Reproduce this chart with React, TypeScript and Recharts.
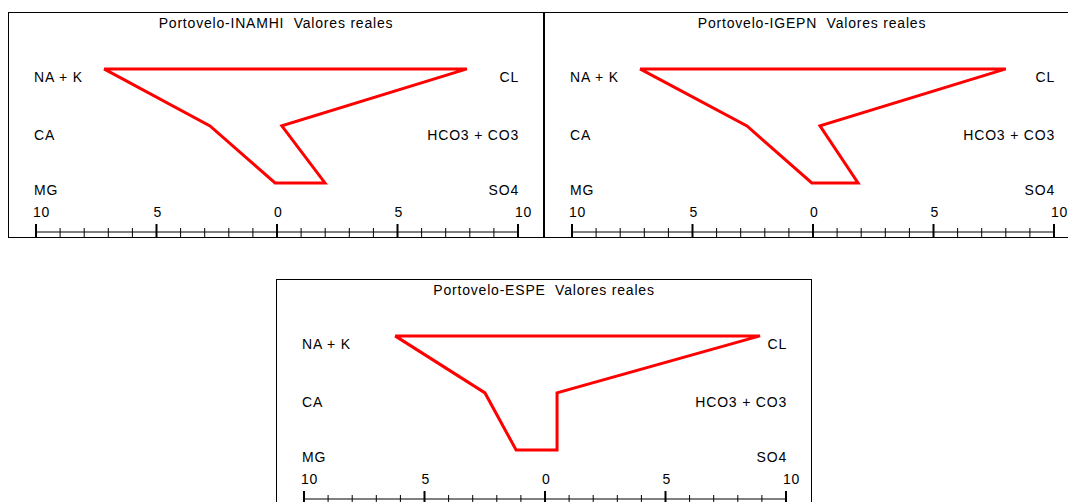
import { LineChart, Line, XAxis, YAxis } from 'recharts'

// Stiff diagrams, values in meq/l
const stations = ['Portovelo-INAMHI', 'Portovelo-IGEPN', 'Portovelo-ESPE']
const naK = [7.18, 7.18, 6.22]
const ca = [2.78, 2.74, 2.49]
const mg = [0.08, 0.05, 1.2]
const cl = [7.88, 8.0, 8.92]
const hco3 = [0.2, 0.29, 0.5]
const so4 = [1.99, 1.87, 0.5]

const cationLabels = ['NA + K', 'CA', 'MG']
const anionLabels = ['CL', 'HCO3 + CO3', 'SO4']
const rowValues = [2, 1, 0]
const axisTicks = [-10, -9, -8, -7, -6, -5, -4, -3, -2, -1, 0, 1, 2, 3, 4, 5, 6, 7, 8, 9, 10]

const panelPos = [
  { left: 8, top: 12 },
  { left: 544, top: 12 },
  { left: 276, top: 279 }
]

const PANEL_W = 536
const PANEL_H = 226
const font = '"Liberation Sans", Arial, sans-serif'

const polygon = (i: number) => [
  { x: -naK[i], y: rowValues[0] },
  { x: cl[i], y: rowValues[0] },
  { x: hco3[i], y: rowValues[1] },
  { x: so4[i], y: rowValues[2] },
  { x: -mg[i], y: rowValues[2] },
  { x: -ca[i], y: rowValues[1] },
  { x: -naK[i], y: rowValues[0] }
]

function AxisTick(props: any) {
  const { x, y, payload } = props
  const v = payload.value
  const major = v % 5 === 0
  return (
    <g>
      <line
        x1={x}
        x2={x}
        y1={y - (major ? 8 : 4)}
        y2={y + 5}
        stroke="#000"
        strokeWidth={major ? 2 : 1}
      />
      {major && (
        <text
          x={x - 3}
          y={y - 15}
          textAnchor="start"
          fontSize={14}
          fontFamily={font}
          letterSpacing={0.8}
          fill="#000"
        >
          {Math.abs(v)}
        </text>
      )}
    </g>
  )
}

const labelStyle = {
  position: 'absolute' as const,
  fontFamily: font,
  fontSize: 14,
  letterSpacing: 0.8,
  lineHeight: '16px',
  color: '#000',
  whiteSpace: 'nowrap' as const
}

function StiffPanel({ idx }: { idx: number }) {
  const pos = panelPos[idx]
  const rowY = [65, 123, 178]
  return (
    <div
      style={{
        position: 'absolute',
        left: pos.left,
        top: pos.top,
        width: PANEL_W,
        height: PANEL_H,
        boxSizing: 'border-box',
        border: '1px solid #000',
        background: '#fff'
      }}
    >
      <div style={{ ...labelStyle, left: 0, width: PANEL_W - 2, top: 2, textAlign: 'center' }}>
        {stations[idx]}&nbsp; Valores reales
      </div>
      {cationLabels.map((c, k) => (
        <div key={c} style={{ ...labelStyle, left: 25, top: rowY[k] - 9 }}>
          {c}
        </div>
      ))}
      {anionLabels.map((a, k) => (
        <div key={a} style={{ ...labelStyle, right: 24, top: rowY[k] - 9 }}>
          {a}
        </div>
      ))}
      <div style={{ position: 'absolute', left: 0, top: 0 }}>
        <LineChart
          width={PANEL_W - 2}
          height={PANEL_H - 2}
          data={polygon(idx)}
          margin={{ top: 0, right: 25, left: 27, bottom: 0 }}
        >
          <XAxis
            dataKey="x"
            type="number"
            domain={[-10, 10]}
            ticks={axisTicks}
            interval={0}
            height={5}
            tickSize={0}
            tickMargin={0}
            tickLine={false}
            axisLine={{ stroke: '#000', strokeWidth: 1 }}
            tick={<AxisTick />}
          />
          <YAxis
            dataKey="y"
            type="number"
            hide
            domain={[-0.86, 2.98]}
            allowDataOverflow
          />
          <Line
            dataKey="y"
            type="linear"
            stroke="#ff0000"
            strokeWidth={3}
            dot={false}
            activeDot={false}
            isAnimationActive={false}
          />
        </LineChart>
      </div>
    </div>
  )
}

export default function App() {
  return (
    <div
      style={{
        position: 'fixed',
        left: 0,
        top: 0,
        width: 1068,
        height: 502,
        background: '#fff',
        overflow: 'hidden'
      }}
    >
      {stations.map((s, i) => (
        <StiffPanel key={s} idx={i} />
      ))}
    </div>
  )
}
